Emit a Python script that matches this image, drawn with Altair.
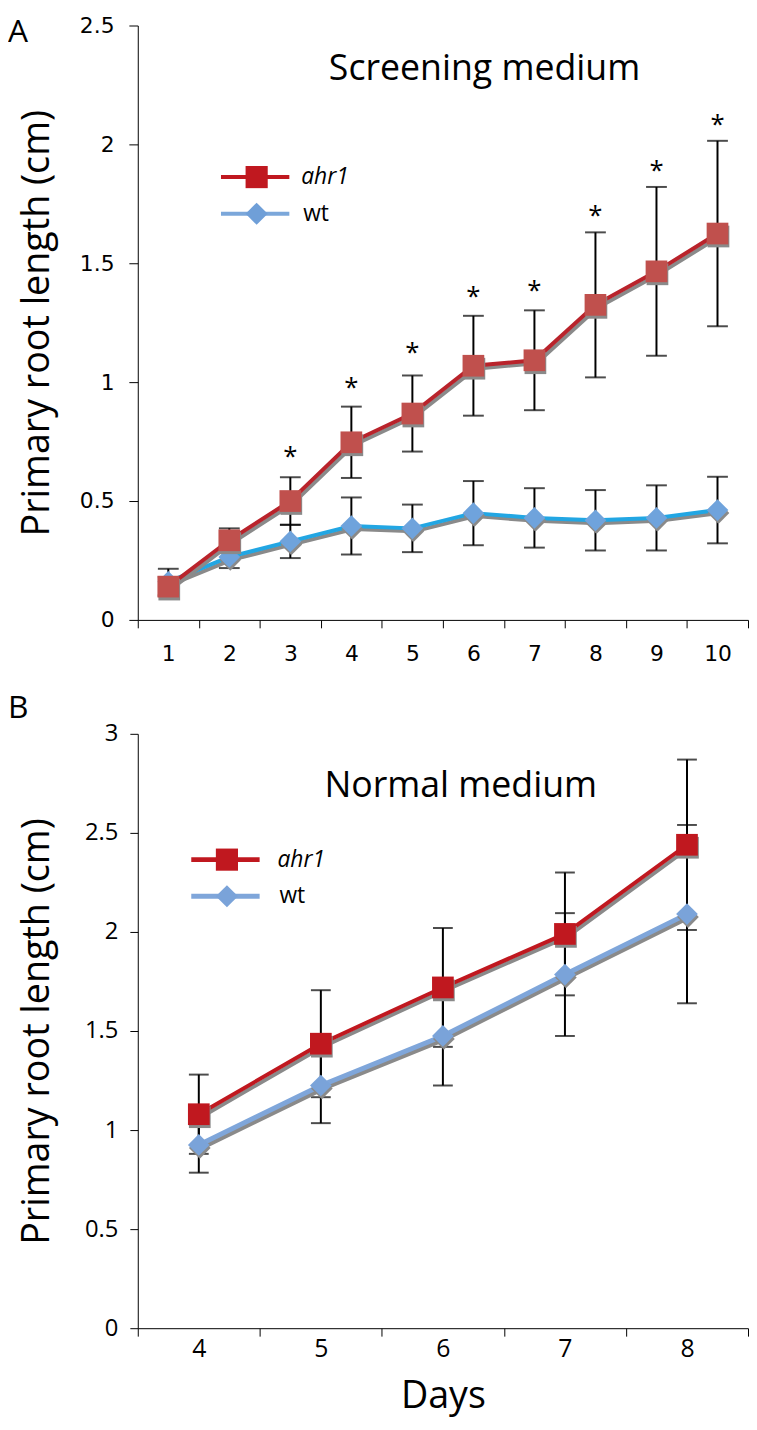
import altair as alt
import pandas as pd

# ---------------- Panel A: Screening medium ----------------
days_a = [1, 2, 3, 4, 5, 6, 7, 8, 9, 10]
ahr1_a = [0.14, 0.335, 0.50, 0.747, 0.868, 1.069, 1.092, 1.325, 1.466, 1.625]
ahr1_a_err = [0.04, 0.05, 0.10, 0.15, 0.16, 0.21, 0.21, 0.305, 0.355, 0.39]
wt_a = [0.16, 0.265, 0.33, 0.395, 0.385, 0.449, 0.429, 0.419, 0.429, 0.462]
wt_a_err = [0.055, 0.047, 0.07, 0.12, 0.10, 0.135, 0.125, 0.127, 0.137, 0.14]
star_days_a = [3, 4, 5, 6, 7, 8, 9, 10]
star_y_a = [0.70, 0.99, 1.14, 1.375, 1.40, 1.717, 1.906, 2.10]
yticks_a = [0, 0.5, 1, 1.5, 2, 2.5]

# ---------------- Panel B: Normal medium ----------------
days_b = [4, 5, 6, 7, 8]
ahr1_b = [1.08, 1.436, 1.72, 1.99, 2.44]
ahr1_b_err = [0.20, 0.27, 0.30, 0.31, 0.43]
wt_b = [0.925, 1.225, 1.475, 1.785, 2.09]
wt_b_err = [0.14, 0.19, 0.25, 0.31, 0.45]
yticks_b = [0, 0.5, 1, 1.5, 2, 2.5, 3]

Y_TITLE = "Primary root length (cm)"
W = 616
HA = 600
HB = 600


def frame(days, ahr1, ahr1_err, wt, wt_err):
    rows = []
    for name, vals, errs in (("ahr1", ahr1, ahr1_err), ("wt", wt, wt_err)):
        for d, v, e in zip(days, vals, errs):
            rows.append({"day": d, "series": name, "value": v, "lo": v - e, "hi": v + e})
    return pd.DataFrame(rows)


def one(label):
    return alt.Data(values=[{"label": label}])


def build_panel(df, days, ydom, height, xaxis, yaxis, sty, title_txt, title_pos,
                letter, letter_pos, letter_baseline, legend_pos, extra_layers):
    xs = alt.Scale(type="band", domain=days, paddingInner=0, paddingOuter=0)
    ys = alt.Scale(domain=ydom, nice=False, zero=True)

    def X():
        return alt.X("day:O", scale=xs, axis=xaxis)

    def Y(field):
        return alt.Y(f"{field}:Q", scale=ys, axis=yaxis)

    base = alt.Chart(df)
    layers = []
    # error bars
    layers.append(base.mark_rule(color="black", strokeWidth=2).encode(x=X(), y=Y("lo"), y2=alt.Y2("hi")))
    layers.append(base.mark_tick(color="black", size=sty["cap"], thickness=2).encode(x=X(), y=Y("lo")))
    layers.append(base.mark_tick(color="black", size=sty["cap"], thickness=2).encode(x=X(), y=Y("hi")))

    for name, shape in (("wt", "diamond"), ("ahr1", "square")):
        sub = base.transform_filter(alt.datum.series == name)
        layers.append(sub.mark_line(color="#8a8a8a", strokeWidth=sty["lw_" + name], xOffset=2, yOffset=3)
                      .encode(x=X(), y=Y("value")))
        layers.append(sub.mark_line(color=sty["line_" + name], strokeWidth=sty["lw_" + name])
                      .encode(x=X(), y=Y("value")))
        layers.append(sub.mark_point(shape=shape, filled=True, opacity=1, color="#8a8a8a",
                                     size=480, xOffset=1, yOffset=3)
                      .encode(x=X(), y=Y("value")))
        layers.append(sub.mark_point(shape=shape, filled=True, opacity=1, color=sty["mk_" + name],
                                     size=480)
                      .encode(x=X(), y=Y("value")))

    layers.extend(extra_layers(X, Y))

    # legend
    lx0, lx1, lmx, ltx, ly1, ly2 = legend_pos
    for name, shape, yy, italic in (("ahr1", "square", ly1, True), ("wt", "diamond", ly2, False)):
        layers.append(alt.Chart(one(name)).mark_rule(color=sty["lg_line_" + name], strokeWidth=sty["lg_lw"])
                      .encode(x=alt.value(lx0), x2=alt.value(lx1), y=alt.value(yy)))
        layers.append(alt.Chart(one(name)).mark_point(shape=shape, filled=True, opacity=1,
                                                       color=sty["lg_mk_" + name], size=500)
                      .encode(x=alt.value(lmx), y=alt.value(yy)))
        layers.append(alt.Chart(one(name)).mark_text(align="left", baseline="middle", font="Open Sans",
                                                      fontSize=23, fontStyle="italic" if italic else "normal",
                                                      color="black")
                      .encode(x=alt.value(ltx if italic else ltx + 2), y=alt.value(yy), text="label:N"))

    # panel title
    layers.append(alt.Chart(one(title_txt)).mark_text(align="center", baseline="alphabetic",
                                                       font="Open Sans", fontSize=36, color="black")
                  .encode(x=alt.value(title_pos[0]), y=alt.value(title_pos[1]), text="label:N"))
    # panel letter
    layers.append(alt.Chart(one(letter)).mark_text(align="left", baseline=letter_baseline,
                                                    font="Open Sans", fontSize=32, color="black")
                  .encode(x=alt.value(letter_pos[0]), y=alt.value(letter_pos[1]), text="label:N"))

    return alt.layer(*layers).properties(width=W, height=height)


# ---- Panel A ----
df_a = frame(days_a, ahr1_a, ahr1_a_err, wt_a, wt_a_err)
stars_a = pd.DataFrame({"day": star_days_a, "value": star_y_a, "s": ["*"] * len(star_days_a)})

xaxis_a = alt.Axis(title=None, tickBand="extent", labelAngle=0, labelFont="DejaVu Sans", labelFontSize=22,
                   labelColor="black", tickSize=8, tickColor="black", domainColor="black",
                   labelPadding=16, grid=False)
yaxis_a = alt.Axis(values=yticks_a, format="~g", labelFont="DejaVu Sans", labelFontSize=22, labelColor="black",
                   tickSize=9, tickColor="black", domainColor="black", labelPadding=15, grid=False,
                   title=Y_TITLE, titleFont="Open Sans", titleFontSize=38, titleFontWeight="normal",
                   titleColor="black", titleAngle=270, titleAlign="center", titleBaseline="alphabetic",
                   titleX=-90, titleY=HA / 2)


def stars_layer(X, Y):
    return [alt.Chart(stars_a).mark_text(font="Open Sans", fontSize=26, baseline="alphabetic", dy=12,
                                         color="black")
            .encode(x=X(), y=Y("value"), text="s:N")]


sty_a = {"cap": 21, "lw_wt": 4, "lw_ahr1": 4,
         "line_wt": "#22a6e3", "line_ahr1": "#b9232b",
         "mk_wt": "#6fa3dc", "mk_ahr1": "#c0504d",
         "lg_line_ahr1": "#c0181f", "lg_mk_ahr1": "#c0181f",
         "lg_line_wt": "#7ba7da", "lg_mk_wt": "#6f9fd8", "lg_lw": 4}

panel_a = build_panel(df_a, days_a, [0, 2.5], HA, xaxis_a, yaxis_a, sty_a,
                      "Screening medium", (350, 55), "A", (-131, -8), "top",
                      (84, 153, 120, 165, 153, 190), stars_layer)

# ---- Panel B ----
df_b = frame(days_b, ahr1_b, ahr1_b_err, wt_b, wt_b_err)

xaxis_b = alt.Axis(title="Days", tickBand="extent", labelAngle=0, labelFont="Open Sans", labelFontSize=25,
                   labelColor="black", tickSize=8, tickColor="black", domainColor="black",
                   labelPadding=1, grid=False, titleFont="Open Sans", titleFontSize=38,
                   titleFontWeight="normal", titleColor="black", titleBaseline="alphabetic",
                   titleX=W / 2, titleY=80)
yaxis_b = alt.Axis(values=yticks_b, format="~g", labelFont="Open Sans", labelFontSize=24, labelColor="black",
                   tickSize=8, tickColor="black", domainColor="black", labelPadding=12, grid=False,
                   title=Y_TITLE, titleFont="Open Sans", titleFontSize=38, titleFontWeight="normal",
                   titleColor="black", titleAngle=270, titleAlign="center", titleBaseline="alphabetic",
                   titleX=-90, titleY=HB / 2)

sty_b = {"cap": 20, "lw_wt": 5, "lw_ahr1": 4,
         "line_wt": "#7fa6da", "line_ahr1": "#c0181f",
         "mk_wt": "#7aa3d9", "mk_ahr1": "#c0181f",
         "lg_line_ahr1": "#c0181f", "lg_mk_ahr1": "#c0181f",
         "lg_line_wt": "#7fa6da", "lg_mk_wt": "#7aa3d9", "lg_lw": 5}

panel_b = build_panel(df_b, days_b, [0, 3], HB, xaxis_b, yaxis_b, sty_b,
                      "Normal medium", (326, 64), "B", (-131, -16), "alphabetic",
                      (54, 123, 90, 141, 127, 164), lambda X, Y: [])

chart = alt.vconcat(panel_a, panel_b, spacing=28).properties(padding=0).configure_view(stroke=None)

chart.save("out.html", embed_options={"renderer": "svg", "actions": False})
